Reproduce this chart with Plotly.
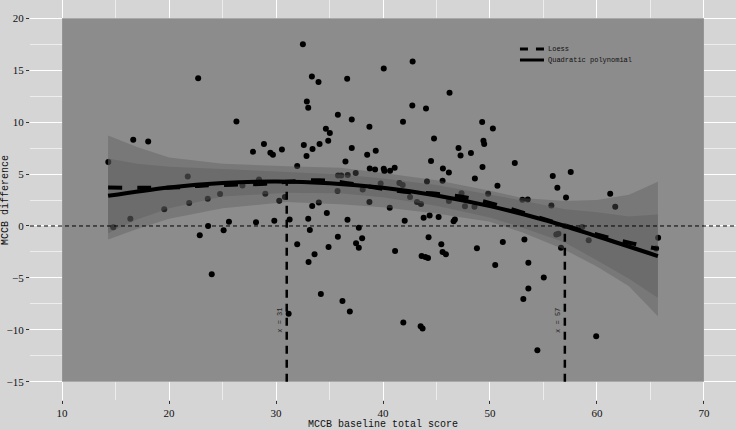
import plotly.graph_objects as go

# ---- scatter data ----
pts_x = [22.72, 26.3, 16.65, 18.05, 14.32, 21.75, 24.77, 23.62, 21.88, 19.55, 16.38, 14.79, 23.65, 25.6, 22.87, 25.1, 23.99,
         32.51, 33.35, 33.97, 36.65, 32.88, 33.01, 35.78, 34.66, 35.03, 34.88, 28.87, 27.85, 29.47, 29.71, 30.55, 32.6, 33.41,
         34.07, 32.85, 31.98, 36.49, 35.8, 36.1, 36.7, 28.41, 26.86, 29.0, 30.83, 30.3, 33.38, 34.0, 34.75, 35.75, 28.13,
         29.84, 31.27, 33.01, 36.68, 33.16, 35.78, 31.98, 34.91, 33.6, 33.04, 34.19, 36.21, 36.9, 31.18,
         42.77, 40.07, 37.08, 38.73, 42.74, 44.02, 41.87, 44.77, 37.08, 39.32, 38.52, 44.49, 38.76, 39.26, 40.07, 40.13,
         40.66, 41.09, 37.45, 39.78, 41.53, 41.84, 38.1, 44.11, 42.53, 43.18, 43.55, 38.73, 40.63, 42.03, 43.8, 44.36, 45.2,
         37.74, 38.05, 37.48, 37.74, 44.26, 41.13, 43.61, 43.96, 44.21, 41.9, 43.52, 43.7,
         46.22, 49.27, 50.27, 49.39, 49.46, 47.06, 47.25, 48.22, 52.32, 45.6, 46.16, 49.3, 45.57, 48.59, 50.7, 47.34, 49.83,
         46.16, 47.66, 48.55, 53.03, 53.53, 46.6, 46.72, 51.2, 53.22, 48.78, 45.45, 45.57, 45.88, 50.49, 53.59, 53.59, 53.12,
         57.55, 55.87, 56.3, 57.11, 61.24, 61.71, 55.74, 58.63, 57.0, 56.2, 56.4, 59.23, 56.64, 55.03, 59.93, 54.43,
         65.72, 65.53]
pts_y = [14.23, 10.06, 8.30, 8.14, 6.15, 4.77, 3.08, 2.62, 2.21, 1.60, 0.70, -0.13, 0.0, 0.41, -0.9, -0.42, -4.65,
         17.5, 14.38, 13.85, 14.16, 11.98, 11.38, 10.7, 9.36, 8.94, 8.2, 7.88, 7.14, 7.05, 6.86, 7.37, 7.79, 7.40,
         7.88, 6.73, 5.77, 6.21, 4.87, 4.87, 4.9, 4.48, 3.9, 3.1, 2.79, 2.43, 1.92, 2.27, 1.25, 3.36, 0.35,
         0.51, 0.63, 0.7, 0.6, -0.39, -1.03, -1.77, -2.02, -2.73, -3.46, -6.54, -7.21, -8.22, -8.46,
         15.83, 15.15, 10.25, 9.55, 11.6, 11.31, 10.03, 8.42, 7.5, 7.24, 6.86, 6.25, 5.54, 5.44, 5.5, 5.29,
         5.32, 5.6, 5.1, 4.1, 4.13, 3.94, 3.52, 4.29, 2.79, 2.31, 2.12, 2.31, 1.76, 0.51, 0.8, 1.02, 0.86,
         -0.16, -1.19, -1.67, -2.09, -1.09, -2.41, -2.88, -2.98, -3.08, -9.3, -9.65, -9.88,
         12.82, 10.0, 9.39, 8.2, 7.88, 7.5, 6.79, 7.02, 6.06, 5.54, 5.15, 5.67, 4.36, 4.58, 3.88, 3.14, 3.1,
         2.4, 1.89, 1.86, 2.53, 2.56, 0.45, 0.63, -1.54, -1.29, -2.15, -1.77, -2.5, -2.73, -3.75, -3.53, -6.03, -7.02,
         5.19, 4.8, 3.68, 2.75, 3.1, 1.86, 1.98, -0.1, 0.0, -0.82, -0.74, -1.38, -2.09, -4.97, -10.61, -11.96,
         -1.13, -2.18]

# ---- fitted curves ----
quad_x = [14.3, 20, 25, 30, 35, 40, 45, 50, 55, 60, 65.7]
quad_y = [2.9, 3.71, 4.14, 4.27, 4.11, 3.67, 2.94, 1.91, 0.60, -0.99, -2.9]

loess_x = [14.3, 18, 21, 23, 26, 29, 31, 34, 36.5, 39.5, 42, 45, 48.5, 53, 57, 61, 63.4, 65.7]
loess_y = [3.7, 3.68, 3.72, 3.88, 3.97, 4.07, 4.25, 4.4, 4.15, 3.65, 3.3, 3.1, 2.6, 1.3, 0.05, -1.1, -1.7, -2.2]

band_x = [14.3, 17, 20, 25, 31, 36, 40, 45, 50, 53, 57, 60, 63, 65.7]
loess_hi = [8.7, 7.6, 6.6, 6.0, 5.75, 5.6, 5.1, 4.4, 3.4, 2.7, 2.4, 2.5, 3.0, 4.25]
loess_lo = [-1.3, -0.3, 0.7, 1.7, 2.3, 2.1, 1.8, 1.2, 0.4, -0.6, -2.3, -3.9, -5.8, -8.7]
quad_hi = [6.5, 6.0, 5.7, 5.44, 5.2, 4.95, 4.57, 3.94, 3.01, 2.46, 1.6, 1.31, 0.91, 1.1]
quad_lo = [-0.7, 0.62, 1.71, 2.84, 3.2, 3.15, 2.77, 1.94, 0.81, -0.14, -1.6, -3.29, -5.09, -6.9]

# reference lines
vline_x = [31, 57]
vline_top = [4.15, 0.0]
vline_bottom = -15
vline_labels = ["x = 31", "x = 57"]

panel_x = [10, 70]
panel_y = [-15, 20]

x_ticks = [10, 20, 30, 40, 50, 60, 70]
y_ticks = [-15, -10, -5, 0, 5, 10, 15, 20]

legend_names = ["Loess", "Quadratic polynomial"]

FONT = "Liberation Mono"
TICKFONT = "Liberation Serif"
BAND = "rgba(90,90,90,0.4)"

fig = go.Figure()

# points
fig.add_trace(go.Scatter(x=pts_x, y=pts_y, mode="markers",
                         marker=dict(color="black", size=6), showlegend=False, hoverinfo="skip"))

# bands
fig.add_trace(go.Scatter(x=band_x + band_x[::-1], y=loess_hi + loess_lo[::-1], fill="toself",
                         fillcolor=BAND, line=dict(width=0), mode="lines", showlegend=False, hoverinfo="skip"))
fig.add_trace(go.Scatter(x=band_x + band_x[::-1], y=quad_hi + quad_lo[::-1], fill="toself",
                         fillcolor=BAND, line=dict(width=0), mode="lines", showlegend=False, hoverinfo="skip"))

# vertical dashed lines
for vx, vt in zip(vline_x, vline_top):
    fig.add_trace(go.Scatter(x=[vx, vx], y=[vline_bottom, vt], mode="lines",
                             line=dict(color="black", width=2.5, dash="8px,6px"),
                             showlegend=False, hoverinfo="skip"))

# curves
fig.add_trace(go.Scatter(x=loess_x, y=loess_y, mode="lines", name=legend_names[0],
                         line=dict(color="black", width=4, dash="14px,15px", shape="spline"),
                         showlegend=False))
fig.add_trace(go.Scatter(x=quad_x, y=quad_y, mode="lines", name=legend_names[1],
                         line=dict(color="black", width=4, shape="spline"),
                         showlegend=False))

# dark panel rectangle
fig.add_shape(type="rect", x0=panel_x[0], x1=panel_x[1], y0=panel_y[0], y1=panel_y[1],
              fillcolor="#8C8C8C", line=dict(width=0), layer="between")
# horizontal zero line
fig.add_shape(type="line", xref="paper", x0=0, x1=1, y0=0, y1=0,
              line=dict(color="black", width=1, dash="4px,3px"), layer="above")

# legend key (drawn inside the panel, top right)
leg_x0, leg_x1, leg_tx = 0.694, 0.728, 0.731
leg_rows = [0.8775, 0.85]
leg_dash = ["8px,8px", "solid"]
for name, ly, dash in zip(legend_names, leg_rows, leg_dash):
    fig.add_shape(type="line", xref="paper", yref="paper", x0=leg_x0, x1=leg_x1, y0=ly, y1=ly,
                  line=dict(color="black", width=3, dash=dash), layer="above")
    fig.add_annotation(xref="paper", yref="paper", x=leg_tx, y=ly, text=name, showarrow=False,
                       xanchor="left", yanchor="middle", font=dict(family=FONT, size=7, color="#111111"))

for vx, lab in zip(vline_x, vline_labels):
    fig.add_annotation(x=vx - 0.7, y=-9.1, text=lab, textangle=-90, showarrow=False,
                       font=dict(family=FONT, size=7, color="#222222"))

fig.update_layout(
    width=736, height=430,
    margin=dict(l=30, r=0, t=0, b=30),
    paper_bgcolor="#D5D5D5", plot_bgcolor="#D5D5D5",
    font=dict(family=FONT, color="#111111"),
    showlegend=False,
)
fig.update_xaxes(range=[7, 73], tickvals=x_ticks, ticks="outside", ticklen=3, tickcolor="#333333",
                 tickfont=dict(family=TICKFONT, size=11, color="#111111"),
                 showgrid=True, gridcolor="white", gridwidth=1.2, zeroline=False, showline=False,
                 minor=dict(dtick=5, tick0=5, showgrid=True, gridcolor="#EDEDED", gridwidth=0.6),
                 title=dict(text="MCCB baseline total score", font=dict(family=FONT, size=10), standoff=3),
                 automargin=False)
fig.update_yaxes(range=[-16.75, 21.75], tickvals=y_ticks, ticks="outside", ticklen=3, tickcolor="#333333",
                 tickfont=dict(family=TICKFONT, size=11, color="#111111"),
                 showgrid=True, gridcolor="white", gridwidth=1.2, zeroline=False, showline=False,
                 minor=dict(dtick=2.5, tick0=2.5, showgrid=True, gridcolor="#EDEDED", gridwidth=0.6),
                 title=dict(text="MCCB difference", font=dict(family=FONT, size=10), standoff=1),
                 automargin=False)

fig.write_html("out.html", config={"displayModeBar": False},
               post_script="document.body.style.margin='0';document.body.style.overflow='hidden';")
